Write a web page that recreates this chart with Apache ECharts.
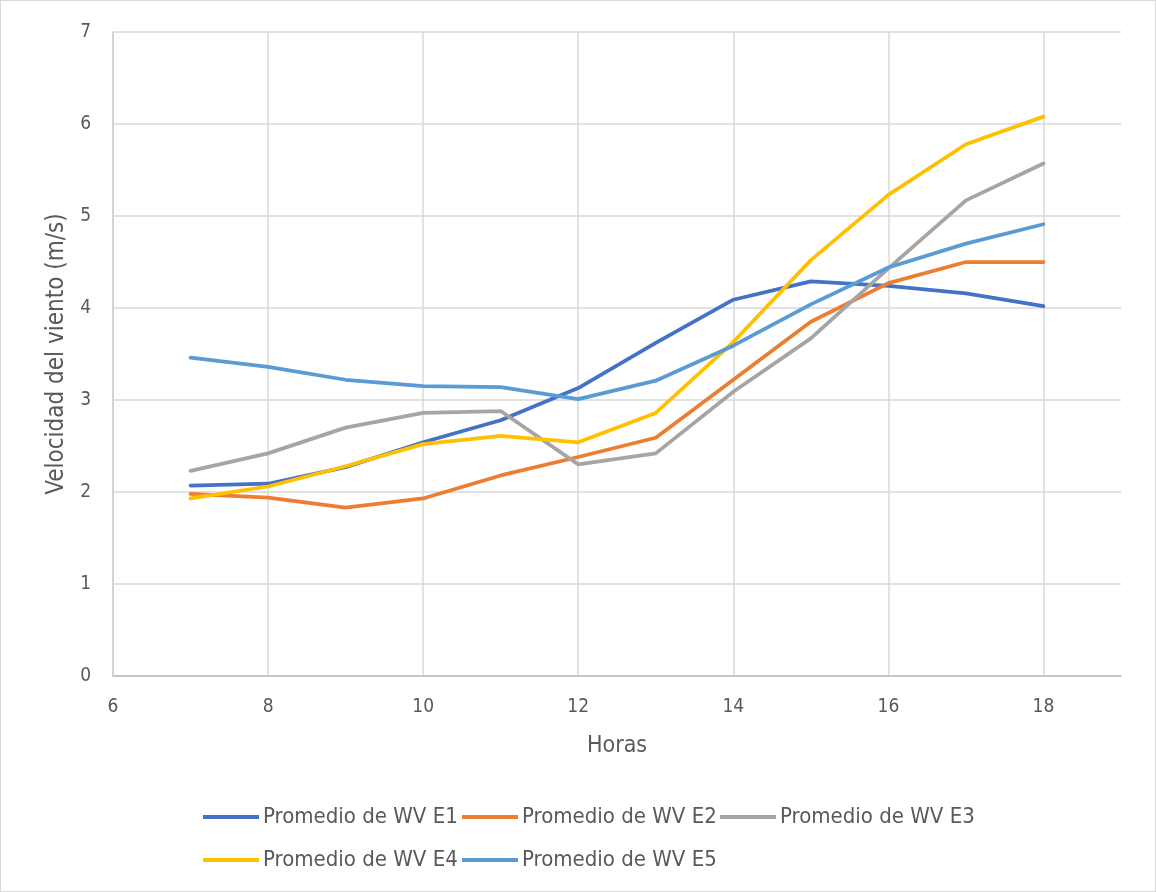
<!DOCTYPE html>
<html>
<head>
<meta charset="utf-8">
<title>Velocidad del viento por hora</title>
<script src="https://cdn.jsdelivr.net/npm/echarts@6/dist/echarts.min.js"></script>
<style>
  html, body { margin: 0; padding: 0; background: #fff; }
  #chart { width: 1154px; height: 890px; border: 1px solid #d9d9d9; }
</style>
</head>
<body>
<div id="chart"></div>
<script>
// Hours of the day (x values)
const horas = [7, 8, 9, 10, 11, 12, 13, 14, 15, 16, 17, 18];

// Average wind speed (m/s) per station
const wvE1 = [2.07, 2.09, 2.27, 2.54, 2.78, 3.13, 3.62, 4.09, 4.29, 4.24, 4.16, 4.02];
const wvE2 = [1.98, 1.94, 1.83, 1.93, 2.18, 2.38, 2.59, 3.22, 3.85, 4.27, 4.50, 4.50];
const wvE3 = [2.23, 2.42, 2.70, 2.86, 2.88, 2.30, 2.42, 3.09, 3.67, 4.43, 5.17, 5.57];
const wvE4 = [1.93, 2.06, 2.28, 2.52, 2.61, 2.54, 2.86, 3.63, 4.52, 5.23, 5.78, 6.08];
const wvE5 = [3.46, 3.36, 3.22, 3.15, 3.14, 3.01, 3.21, 3.59, 4.04, 4.44, 4.70, 4.91];

const seriesNames = [
  'Promedio de WV E1', 'Promedio de WV E2', 'Promedio de WV E3',
  'Promedio de WV E4', 'Promedio de WV E5'
];
const seriesValues = [wvE1, wvE2, wvE3, wvE4, wvE5];
const colors = ['#4472C4', '#ED7D31', '#A5A5A5', '#FFC000', '#5B9BD5'];

const FONT = "'Liberation Sans Narrow', 'DejaVu Sans Condensed', 'Liberation Sans', sans-serif";
const TEXT = '#595959';

// One legend block per series so the two-row layout keeps fixed columns
const legendSlots = [
  { left: 202, top: 805 }, { left: 461, top: 805 }, { left: 719, top: 805 },
  { left: 202, top: 848 }, { left: 461, top: 848 }
];

const chart = echarts.init(document.getElementById('chart'), null, { renderer: 'canvas' });

chart.setOption({
  animation: false,
  textStyle: { fontFamily: FONT },
  grid: { left: 112, right: 34, top: 31, bottom: 215 },
  xAxis: {
    type: 'value',
    min: 6, max: 19, interval: 2,
    name: 'Horas',
    nameLocation: 'middle',
    nameGap: 59,
    nameTextStyle: { color: TEXT, fontSize: 23, fontFamily: FONT },
    axisLine: { show: true, lineStyle: { color: '#BFBFBF', width: 1.5 } },
    axisTick: { show: false },
    axisLabel: { color: TEXT, fontSize: 19, margin: 22, fontFamily: FONT, showMaxLabel: false },
    splitLine: { show: true, showMaxLine: false, lineStyle: { color: '#D9D9D9', width: 1.5 } }
  },
  yAxis: {
    type: 'value',
    min: 0, max: 7, interval: 1,
    name: 'Velocidad del viento (m/s)',
    nameLocation: 'middle',
    nameGap: 44,
    nameTextStyle: { color: TEXT, fontSize: 24, fontFamily: FONT },
    axisLine: { show: true, lineStyle: { color: '#CFCFCF', width: 1.5 } },
    axisTick: { show: false },
    axisLabel: { color: TEXT, fontSize: 19, margin: 22, fontFamily: FONT },
    splitLine: { show: true, lineStyle: { color: '#D9D9D9', width: 1.5 } }
  },
  legend: seriesNames.map((name, i) => ({
    data: [name],
    left: legendSlots[i].left,
    top: legendSlots[i].top,
    padding: 0,
    orient: 'horizontal',
    icon: 'rect',
    itemWidth: 56,
    itemHeight: 4,
    itemGap: 4,
    selectedMode: false,
    textStyle: { color: TEXT, fontSize: 22, fontFamily: FONT, padding: [0, 0, 0, -1] }
  })),
  series: seriesNames.map((name, i) => ({
    name: name,
    type: 'line',
    data: horas.map((h, j) => [h, seriesValues[i][j]]),
    showSymbol: false,
    symbol: 'none',
    color: colors[i],
    lineStyle: { color: colors[i], width: 3.75, cap: 'round', join: 'round' },
    z: 2 + i
  }))
});
</script>
</body>
</html>
